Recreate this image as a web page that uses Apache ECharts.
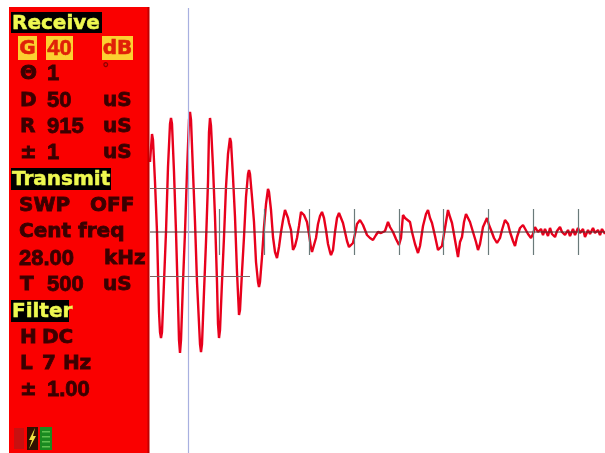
<!DOCTYPE html>
<html><head><meta charset="utf-8">
<style>html,body{margin:0;padding:0;background:#fff}#c{width:605px;height:453px;filter:blur(0.75px)}</style>
<script src="https://cdn.jsdelivr.net/npm/echarts@6/dist/echarts.min.js"></script></head>
<body><div id="c"></div>
<script>
var attack=[[0,70],[2,98],[3,92],[5,50],[7,0],[9,-80],[10,-100],[11,-106],[12,-100],[14,-50],[16,0],[18,65],[20,108],[21,114],[22,108],[24,60],[26,0],[28,-70],[29,-108],[30,-121],[31,-108],[33,-50],[35,0],[37,60],[39,112],[40,120],[41,112],[43,60],[45,10],[47,-50],[50,-112],[51,-120],[52,-112],[54,-60],[56,-10],[58,50],[59,100],[60,114],[61,106],[63,65],[65,15],[67,-50],[68,-92],[69,-106],[70,-98],[72,-50],[74,-5],[76,45],[78,78],[80,94],[81,90],[83,55],[85,15],[87,-40],[89,-83],[90,-78],[92,-40],[94,-5],[96,35],[98,58],[99,62],[100,58],[102,35],[104,10],[106,-30],[108,-50],[109,-55],[110,-50],[112,-25],[114,5],[116,28],[118,43],[119,40],[121,22],[123,-5],[125,-20],[127,-26],[129,-15],[131,0],[133,12],[135,22],[136,24],[138,14],[139,9],[141,2],[143,-18]];
var ringdown=[[145,-14],[147,-6],[149,6],[151,20],[152,22],[154,17],[157,10],[159,-2],[161,-16],[162,-20],[164,-18],[166,-6],[168,8],[170,16],[172,20],[174,14],[176,2],[178,-12],[180,-20],[181,-23],[183,-18],[185,0],[187,14],[189,19],[191,14],[193,9],[195,0],[197,-9],[199,-15],[201,-15],[203,-11],[205,-2],[207,8],[210,12],[213,7],[217,-3],[220,-6],[223,-8],[226,-3],[228,0],[231,-1],[233,-1],[235,1],[238,10],[240,5],[243,0],[246,-7],[249,-13],[251,-6],[253,17],[255,14],[257,12],[260,10],[262,0],[265,-12],[268,-21],[270,-14],[273,6],[276,18],[278,22],[280,14],[282,9],[285,-4],[288,-18],[290,-16],[292,-14],[295,4],[298,22],[300,15],[302,9]];
var tail=[[305,-8],[308,-25],[310,-10],[312,-5],[314,10],[316,18],[318,14],[320,10],[323,0],[326,-10],[328,-18],[330,-12],[333,5],[337,14],[339,7],[341,2],[344,-6],[347,-11],[350,-6],[352,2],[355,12],[358,8],[360,0],[363,-9],[365,-14],[367,-5],[370,4],[373,7],[375,5],[378,-2],[381,-6],[383,-2],[385,5],[388,0],[391,3],[393,-3],[395,3],[398,-4],[400,4],[402,-2],[405,-5],[407,1],[410,5],[412,0],[415,-3],[418,2],[420,-4],[423,3],[425,-3],[428,4],[430,-1],[433,3],[435,-5],[438,2],[440,-2],[443,4],[445,-1],[448,2],[450,-3],[452,3],[455,-2]];
var centerLine=[0,455];
var gridLevels=[44,-44];
var gridExtent=[0,100];
var tickPositions=[69,114,159,204,249,293,338,383,428];
var tickHalf=23;
var cursorX=38;
var rowsLeft=[['\u0398',20,73],['1',47,73],['D',20,100],['50',47,100],['uS',103,100],['R',20,126],['915',47,126],['uS',103,126],['\u00b1',20,152],['1',47,152],['uS',103,152],['SWP',19,205],['OFF',90,205],['Cent freq',19,231],['28.00',19,258],['kHz',104,258],['T',20,284],['500',47,284],['uS',103,284],['H',20,337],['DC',42,337],['L',20,363],['7 Hz',42,363],['\u00b1',20,389],['1.00',47,389]];
var headers=[['Receive',11,12,91,21],['Transmit',11,168,100,22],['Filter',11,300,58,22]];
var highlighted=[['G',18,36,19,24],['40',46,36,27,24],['dB',102,36,31,24]];

function fontOf(t){return /^[0-9.]+$/.test(t)?'bold 22px "Liberation Sans"':'bold 20px "DejaVu Sans"';}
var g=[];
g.push({type:'rect',z:10,shape:{x:9,y:7,width:139,height:446},style:{fill:'#fa0000'}});
g.push({type:'rect',z:10,shape:{x:147.5,y:7,width:2,height:446},style:{fill:'#c00000'}});
headers.forEach(function(h){
  g.push({type:'rect',z:11,shape:{x:h[1],y:h[2],width:h[3],height:h[4]},style:{fill:'#000000'}});
  g.push({type:'text',z:12,x:h[1]+1,y:h[2]+h[4]/2+1,style:{text:h[0],font:fontOf(h[0]),fill:'#eef850',stroke:'#eef850',lineWidth:0.5,verticalAlign:'middle',align:'left'}});
});
highlighted.forEach(function(h){
  g.push({type:'rect',z:11,shape:{x:h[1],y:h[2],width:h[3],height:h[4]},style:{fill:'#fcd030'}});
  g.push({type:'text',z:12,x:h[1]+h[3]/2,y:h[2]+h[4]/2+1,style:{text:h[0],font:fontOf(h[0]),fill:'#e02008',stroke:'#e02008',lineWidth:0.6,verticalAlign:'middle',align:'center'}});
});
rowsLeft.forEach(function(r){
  g.push({type:'text',z:12,x:r[1],y:r[2]+1,style:{text:r[0],font:fontOf(r[0]),fill:'#3a0000',stroke:'#3a0000',lineWidth:0.8,verticalAlign:'middle',align:'left'}});
});
g.push({type:'text',z:12,x:102,y:70,style:{text:'\u00b0',font:'bold 15px "DejaVu Sans"',fill:'#8a0000',verticalAlign:'middle',align:'left'}});
g.push({type:'rect',z:11,shape:{x:14,y:428,width:10,height:21},style:{fill:'#c81010'}});
g.push({type:'rect',z:11,shape:{x:27,y:427,width:11,height:23},style:{fill:'#301000'}});
g.push({type:'polygon',z:12,shape:{points:[[35,428],[29,440],[32,440],[29,449],[36,436],[33,436]]},style:{fill:'#f0e040'}});
g.push({type:'rect',z:11,shape:{x:40,y:427,width:12,height:23},style:{fill:'#1a8a20'}});
[431,436,441,446].forEach(function(y){g.push({type:'rect',z:12,shape:{x:42,y:y,width:8,height:1.5},style:{fill:'#60c050'}});});

var lineData=[];
gridLevels.forEach(function(v){lineData.push([{coord:[gridExtent[0],v]},{coord:[gridExtent[1],v]}]);});
var ticks=tickPositions.map(function(x){return [{coord:[x,-tickHalf]},{coord:[x,tickHalf]}];});
var wave=attack.concat(ringdown,tail);

var chart=echarts.init(document.getElementById('c'),null,{renderer:'canvas'});
chart.setOption({
  animation:false,
  backgroundColor:'#fff',
  grid:{left:150,top:8,width:455,height:445},
  xAxis:{type:'value',min:0,max:455,axisLine:{show:false},axisTick:{show:false},axisLabel:{show:false},splitLine:{show:false}},
  yAxis:{type:'value',min:-221,max:224,axisLine:{show:false},axisTick:{show:false},axisLabel:{show:false},splitLine:{show:false}},
  graphic:g,
  series:[
    {type:'line',silent:true,z:1,data:[],
     markLine:{silent:true,symbol:'none',label:{show:false},lineStyle:{color:'#6a7a7a',width:1.2,type:'solid'},data:ticks}},
    {type:'line',silent:true,z:1,data:[],
     markLine:{silent:true,symbol:'none',label:{show:false},lineStyle:{color:'#a8b0e0',width:1.2,type:'solid'},data:[[{coord:[cursorX,-221]},{coord:[cursorX,224]}]]}},
    {type:'line',silent:true,z:3,showSymbol:false,smooth:false,
     data:wave,
     lineStyle:{color:'#e8001c',width:2.4}},
    {type:'line',silent:true,z:4,data:[],
     markLine:{silent:true,symbol:'none',label:{show:false},lineStyle:{color:'#806060',width:1,type:'solid'},data:lineData}},
    {type:'line',silent:true,z:4,showSymbol:false,data:centerLine.map(function(x){return [x,0];}),lineStyle:{color:'#4a3030',width:1}}
  ]
});
</script></body></html>
